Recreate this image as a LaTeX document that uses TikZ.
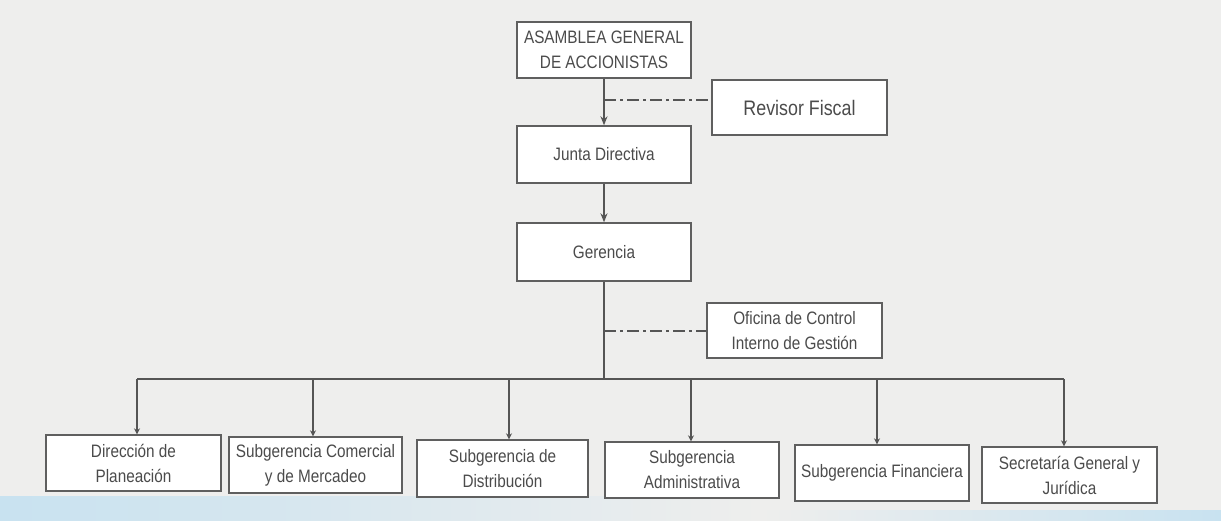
\documentclass[tikz,border=0pt]{standalone}
\usepackage{fontspec}
\newfontfamily\nfont[FakeStretch=0.85]{Liberation Sans}
\usetikzlibrary{arrows.meta}
\definecolor{bgc}{RGB}{238,238,237}
\definecolor{linec}{RGB}{85,85,85}
\definecolor{boxc}{RGB}{95,95,95}
\definecolor{txtc}{RGB}{75,75,75}
\definecolor{tint}{RGB}{200,226,240}
\tikzset{
  orgbox/.style={draw=boxc, line width=1.4pt, fill=white, minimum width=174pt,
    minimum height=56pt, inner sep=0pt, align=center, text=txtc,
    font=\nfont\fontsize{18}{25}\selectfont},
  link/.style={draw=linec, line width=1.4pt},
  bigarrow/.style={link, -{Stealth[length=9pt,width=7pt]}},
  droparrow/.style={link, -{Stealth[length=6pt,width=6pt]}},
  dashlink/.style={draw=linec, line width=1.4pt, dash pattern=on 12pt off 4pt on 3pt off 4pt}
}
\begin{document}
\begin{tikzpicture}[x=1pt,y=-1pt]
\useasboundingbox (0,0) rectangle (1221,520);
\fill[bgc] (0,0) rectangle (1221,520);
\shade[left color=tint, right color=bgc] (0,496) rectangle (760,520);
\shade[left color=bgc, right color=tint] (760,510) rectangle (1221,520);
% top chain
\node[orgbox] (A) at (604,50) {ASAMBLEA GENERAL\\DE ACCIONISTAS};
\node[orgbox, minimum width=175pt, minimum height=55pt, font=\nfont\fontsize{21}{26}\selectfont] (RF) at (799.5,107.5) {Revisor Fiscal};
\node[orgbox, minimum height=57pt] (J) at (604,154.5) {Junta Directiva};
\node[orgbox, minimum height=58pt] (G) at (604,252) {Gerencia};
\node[orgbox, minimum width=175pt, minimum height=55pt] (OC) at (794.5,330.5) {Oficina de Control\\Interno de Gestión};
% bottom row
\node[orgbox, minimum width=175pt] (B1) at (133.5,463) {Dirección de\\Planeación};
\node[orgbox, minimum width=173pt] (B2) at (315.5,465) {Subgerencia Comercial\\y de Mercadeo};
\node[orgbox, minimum width=171pt, minimum height=57pt] (B3) at (502.5,468.5) {Subgerencia de\\Distribución};
\node[orgbox] (B4) at (692,470) {Subgerencia\\Administrativa};
\node[orgbox] (B5) at (882,473) {Subgerencia Financiera};
\node[orgbox, minimum width=175pt] (B6) at (1069.5,475) {Secretaría General y\\Jurídica};
% connectors
\coordinate (rfj) at (604,100);
\coordinate (ocj) at (604,331);
\coordinate (bus) at (604,379);
\draw[bigarrow] (A.south) -- (J.north);
\draw[bigarrow] (J.south) -- (G.north);
\draw[link] (G.south) -- (bus);
\draw[dashlink] (rfj) -- (rfj -| RF.west);
\draw[dashlink] (ocj) -- (ocj -| OC.west);
\coordinate (d1) at (137,379);
\coordinate (d2) at (313,379);
\coordinate (d3) at (509,379);
\coordinate (d4) at (691,379);
\coordinate (d5) at (877,379);
\coordinate (d6) at (1064,379);
\draw[link] (d1) -- (d6);
\draw[droparrow] (d1) -- (d1 |- B1.north);
\draw[droparrow] (d2) -- (d2 |- B2.north);
\draw[droparrow] (d3) -- (d3 |- B3.north);
\draw[droparrow] (d4) -- (d4 |- B4.north);
\draw[droparrow] (d5) -- (d5 |- B5.north);
\draw[droparrow] (d6) -- (d6 |- B6.north);
\end{tikzpicture}
\end{document}
